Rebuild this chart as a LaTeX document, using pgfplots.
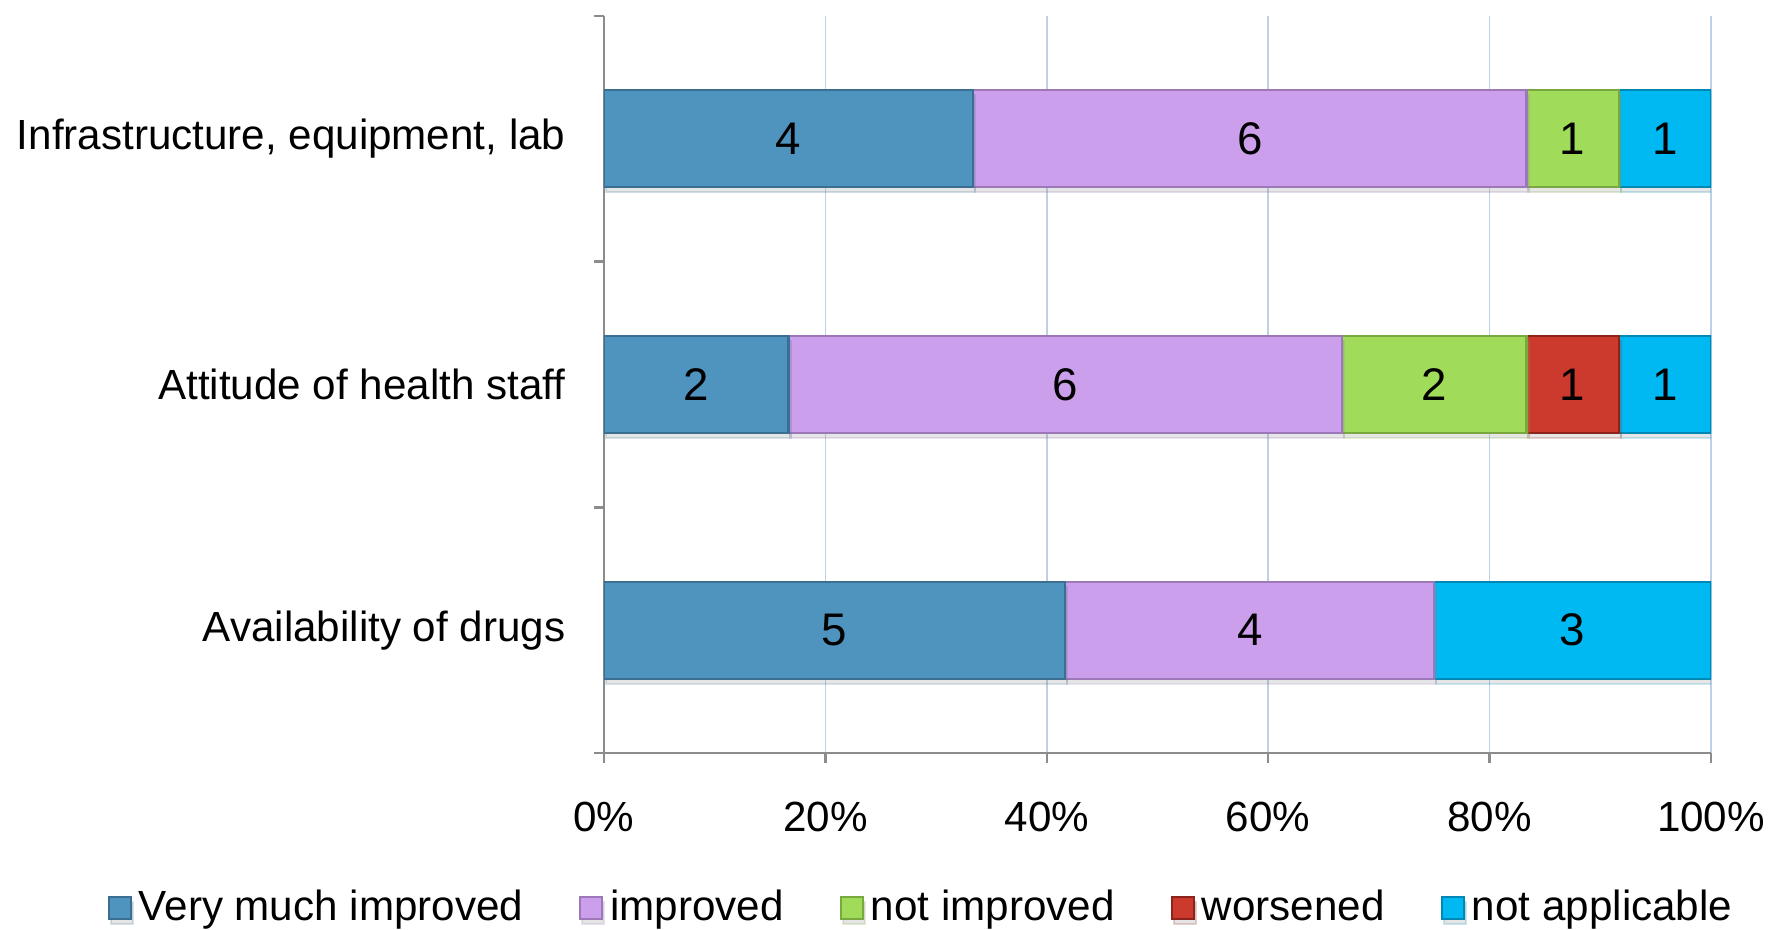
\documentclass[border=0pt]{standalone}
\usepackage{pgfplots}
\usepackage{pgfplotstable}
\pgfplotsset{compat=1.18}
\usepackage{fontspec}
\setmainfont{Liberation Sans}
\usetikzlibrary{shadows}

\definecolor{cVMI}{HTML}{4F93BF}
\definecolor{cVMIedge}{HTML}{3A6F91}
\definecolor{cIMP}{HTML}{CB9FEC}
\definecolor{cIMPedge}{HTML}{9C78B8}
\definecolor{cNOT}{HTML}{A0DC5A}
\definecolor{cNOTedge}{HTML}{78A83F}
\definecolor{cWOR}{HTML}{CC3A2E}
\definecolor{cWORedge}{HTML}{8E231B}
\definecolor{cNA}{HTML}{00B8F2}
\definecolor{cNAedge}{HTML}{0088B5}
\definecolor{axisgray}{HTML}{8C8C8C}
\definecolor{gridblue}{HTML}{BDD0E6}

% counts of answers per aspect (12 respondents each)
\pgfplotstableread{
y vmi imp notimp wors na
0 5 4 0 0 3
1 2 6 2 1 1
2 4 6 1 0 1
}\responses

\begin{document}
\begin{tikzpicture}
\useasboundingbox (0,0) rectangle (176.8mm,93mm);
\begin{axis}[
  at={(60.4mm,17.7mm)}, anchor=south west,
  x=9.225mm, y=24.567mm,
  xmin=0, xmax=12, ymin=-0.5, ymax=2.5,
  xbar stacked, bar width=9.7mm,
  font=\fontsize{12}{14}\selectfont,
  axis x line*=bottom, axis y line*=left,
  axis line style={draw=axisgray, line width=0.7pt, -},
  tick style={draw=axisgray, line width=0.7pt},
  tick align=outside, major tick length=1mm,
  xtick={0,2.4,4.8,7.2,9.6,12},
  xticklabels={0\%,20\%,40\%,60\%,80\%,100\%},
  xmajorgrids, major grid style={draw=gridblue, line width=0.5pt},
  xticklabel style={yshift=-7.5pt},
  ytick={-0.5,0.5,1.5,2.5},
  y tick label as interval,
  yticklabels={Availability of drugs, Attitude of health staff, {Infrastructure, equipment, lab}},
  yticklabel style={xshift=-4.6pt},
  visualization depends on={rawx \as \rawx},
  nodes near coords={\pgfmathtruncatemacro\v{\rawx}\ifnum\v>0 \v\fi},
  nodes near coords align={center},
  every node near coord/.append style={anchor=center,
    text=black, font=\fontsize{13}{15}\selectfont},
  legend columns=5,
  legend style={at={(-0.449,-0.21)}, anchor=west, draw=none, inner sep=0pt,
    font=\fontsize{12}{14}\selectfont,
    /tikz/every even column/.append style={column sep=4.9mm}},
  legend image code/.code={\draw[#1] (0mm,-1.1mm) rectangle (2.2mm,1.1mm);},
  every axis plot/.append style={line width=0.6pt,
    drop shadow={shadow xshift=0.2mm, shadow yshift=-0.5mm, opacity=0.2}},
]
\addplot[fill=cVMI, draw=cVMIedge] table[x=vmi, y=y] {\responses};
\addplot[fill=cIMP, draw=cIMPedge] table[x=imp, y=y] {\responses};
\addplot[fill=cNOT, draw=cNOTedge] table[x=notimp, y=y] {\responses};
\addplot[fill=cWOR, draw=cWORedge] table[x=wors, y=y] {\responses};
\addplot[fill=cNA, draw=cNAedge] table[x=na, y=y] {\responses};
\legend{Very much improved, improved, not improved, worsened, not applicable}
\end{axis}
\end{tikzpicture}
\end{document}
